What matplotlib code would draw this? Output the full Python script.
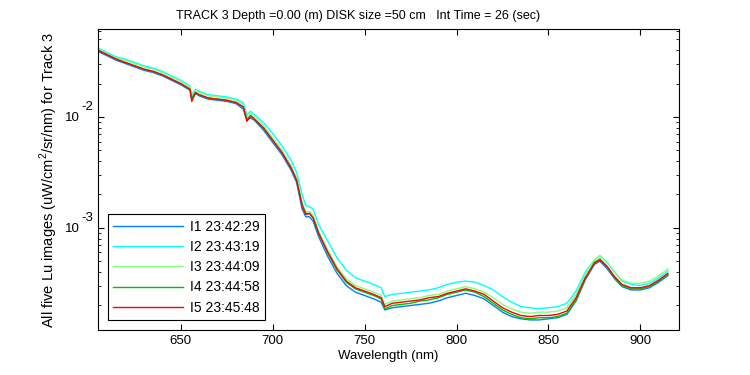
import numpy as np
import matplotlib
matplotlib.use("Agg")
import matplotlib.pyplot as plt
from matplotlib.ticker import LogLocator, FixedLocator, FixedFormatter, NullFormatter

plt.rcParams["font.family"] = ["Liberation Sans", "DejaVu Sans"]
plt.rcParams["mathtext.fontset"] = "custom"
plt.rcParams["mathtext.rm"] = "Liberation Sans"

wavelength = [605, 610, 615, 620, 625, 630, 635, 640, 645, 650, 655, 656, 658,
              660, 665, 670, 675, 680, 684, 686, 688, 690, 695, 700, 705, 710,
              713, 716, 718, 720, 722, 725, 730, 735, 740, 745, 750, 755, 759,
              761, 765, 770, 775, 780, 785, 790, 795, 800, 805, 810, 815, 820,
              825, 830, 835, 840, 845, 850, 855, 860, 865, 870, 875, 878, 882,
              886, 890, 895, 900, 905, 910, 915]

# log10 of Lu, one list per image
log_i1 = [-1.41, -1.45, -1.49, -1.52, -1.55, -1.58, -1.60, -1.63, -1.67, -1.71, -1.76, -1.84, -1.79,
          -1.81, -1.84, -1.85, -1.86, -1.88, -1.93, -2.03, -2.01, -2.03, -2.12, -2.23, -2.34, -2.48,
          -2.59, -2.83, -2.90, -2.90, -2.94, -3.08, -3.26, -3.41, -3.52, -3.58, -3.61, -3.64, -3.67,
          -3.74, -3.72, -3.71, -3.70, -3.69, -3.68, -3.66, -3.63, -3.61, -3.59, -3.61, -3.64, -3.70,
          -3.76, -3.80, -3.82, -3.83, -3.83, -3.82, -3.81, -3.78, -3.66, -3.47, -3.33, -3.30, -3.37,
          -3.46, -3.53, -3.56, -3.56, -3.54, -3.49, -3.43]
log_i2 = [-1.38, -1.42, -1.46, -1.48, -1.51, -1.54, -1.56, -1.59, -1.63, -1.67, -1.72, -1.80, -1.75,
          -1.77, -1.80, -1.81, -1.82, -1.84, -1.87, -1.98, -1.95, -1.98, -2.05, -2.15, -2.26, -2.39,
          -2.50, -2.70, -2.80, -2.81, -2.83, -2.97, -3.12, -3.27, -3.38, -3.45, -3.48, -3.51, -3.54,
          -3.62, -3.60, -3.59, -3.58, -3.57, -3.56, -3.54, -3.51, -3.49, -3.48, -3.49, -3.52, -3.56,
          -3.62, -3.67, -3.71, -3.72, -3.73, -3.72, -3.71, -3.68, -3.57, -3.40, -3.29, -3.25, -3.31,
          -3.40, -3.48, -3.51, -3.52, -3.50, -3.45, -3.39]
log_i3 = [-1.39, -1.43, -1.47, -1.49, -1.52, -1.55, -1.57, -1.60, -1.64, -1.68, -1.73, -1.82, -1.76,
          -1.78, -1.81, -1.82, -1.83, -1.85, -1.89, -2.00, -1.97, -2.00, -2.08, -2.19, -2.30, -2.44,
          -2.55, -2.77, -2.86, -2.85, -2.89, -3.03, -3.20, -3.35, -3.46, -3.52, -3.55, -3.58, -3.61,
          -3.69, -3.66, -3.65, -3.64, -3.63, -3.61, -3.60, -3.57, -3.55, -3.53, -3.55, -3.58, -3.63,
          -3.69, -3.73, -3.76, -3.77, -3.76, -3.76, -3.75, -3.72, -3.60, -3.42, -3.29, -3.25, -3.31,
          -3.40, -3.47, -3.50, -3.50, -3.48, -3.43, -3.37]
log_i4 = [-1.40, -1.44, -1.48, -1.51, -1.54, -1.57, -1.59, -1.62, -1.66, -1.70, -1.75, -1.83, -1.78,
          -1.80, -1.83, -1.84, -1.85, -1.87, -1.91, -2.02, -1.99, -2.02, -2.10, -2.21, -2.32, -2.46,
          -2.57, -2.79, -2.87, -2.87, -2.91, -3.05, -3.23, -3.38, -3.49, -3.55, -3.58, -3.61, -3.64,
          -3.73, -3.70, -3.69, -3.68, -3.66, -3.65, -3.63, -3.60, -3.58, -3.56, -3.58, -3.62, -3.68,
          -3.74, -3.78, -3.81, -3.82, -3.81, -3.81, -3.80, -3.77, -3.65, -3.46, -3.31, -3.28, -3.35,
          -3.45, -3.52, -3.55, -3.55, -3.53, -3.48, -3.42]
log_i5 = [-1.40, -1.44, -1.48, -1.51, -1.54, -1.57, -1.59, -1.62, -1.66, -1.70, -1.75, -1.86, -1.78,
          -1.80, -1.83, -1.84, -1.85, -1.87, -1.91, -2.04, -1.99, -2.02, -2.10, -2.21, -2.32, -2.46,
          -2.57, -2.80, -2.88, -2.87, -2.91, -3.05, -3.22, -3.37, -3.48, -3.54, -3.57, -3.60, -3.63,
          -3.71, -3.68, -3.67, -3.66, -3.65, -3.63, -3.62, -3.59, -3.57, -3.55, -3.57, -3.60, -3.66,
          -3.72, -3.76, -3.79, -3.80, -3.79, -3.79, -3.78, -3.75, -3.63, -3.45, -3.32, -3.29, -3.35,
          -3.44, -3.51, -3.54, -3.54, -3.52, -3.47, -3.41]

labels = ["I1 23:42:29", "I2 23:43:19", "I3 23:44:09", "I4 23:44:58", "I5 23:45:48"]
colors = ["#0080ff", "#00ffff", "#80ff80", "#00c000", "#ff0000"]
y_major = [1e-3, 1e-2]
y_exponents = ["-3", "-2"]

fig = plt.figure(figsize=(7.5, 3.75), dpi=100)
ax = fig.add_axes([0.1307, 0.12, 0.7746, 0.8027])

for series, label, color in zip([log_i1, log_i2, log_i3, log_i4, log_i5], labels, colors):
    ax.plot(wavelength, 10 ** np.array(series), color=color, lw=1.0, label=label)

ax.set_yscale("log")
ax.set_xlim(605, 921)
ax.set_ylim(1.2e-4, 0.062)
ax.set_xticks([650, 700, 750, 800, 850, 900])

# MATLAB-style "10" with a full-size exponent beside it
ax.yaxis.set_major_locator(FixedLocator(y_major))
ax.yaxis.set_major_formatter(FixedFormatter(["10"] * len(y_major)))
ax.yaxis.set_minor_locator(LogLocator(base=10, subs=np.arange(2, 10)))
ax.yaxis.set_minor_formatter(NullFormatter())
ax.tick_params(which="both", direction="in", top=True, right=True, labelsize=9.5)
ax.tick_params(axis="y", which="major", pad=13)
ax.tick_params(which="major", length=4)
ax.tick_params(which="minor", length=2.5)
for v, e in zip(y_major, y_exponents):
    ax.annotate(e, xy=(0, v), xycoords=("axes fraction", "data"),
                xytext=(-17, 10), textcoords="offset pixels",
                ha="left", va="center", fontsize=9.5)
for s in ax.spines.values():
    s.set_linewidth(0.8)

ax.set_xlabel("Wavelength (nm)", fontsize=9.5, labelpad=2)
ax.set_ylabel("All five Lu images (uW/cm$^2$/sr/nm) for Track 3", fontsize=10.5, labelpad=4)
ax.set_title("TRACK 3 Depth =0.00 (m) DISK size =50 cm   Int Time = 26 (sec)",
             fontsize=9, pad=7, x=0.447)

leg = ax.legend(loc="lower left", fontsize=10, fancybox=False, framealpha=1,
                edgecolor="black", handlelength=5, handletextpad=0.5,
                labelspacing=0.45, borderaxespad=0.7)
leg.get_frame().set_linewidth(0.8)

fig.savefig("out.png", dpi=100)
